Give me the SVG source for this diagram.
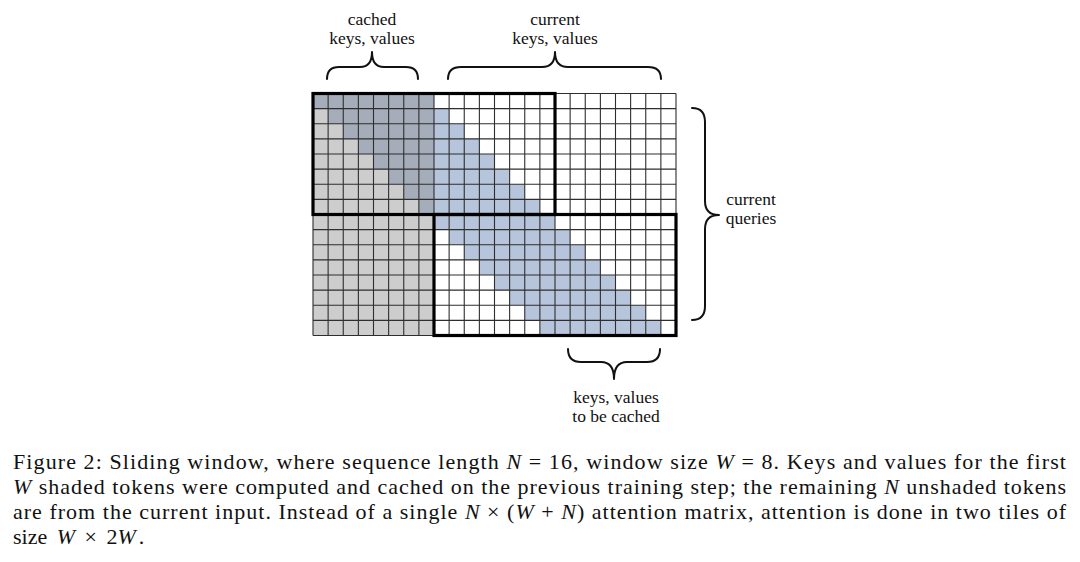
<svg xmlns="http://www.w3.org/2000/svg" width="1080" height="562" viewBox="0 0 1080 562">
<style>
text{font-family:"Liberation Serif","Times New Roman",serif;fill:#111}
.lbl{font-size:17.5px;text-anchor:middle}
.cap{font-size:22px}
.m{font-style:italic}
.brace{fill:none;stroke:#111;stroke-width:2;stroke-linecap:round;stroke-linejoin:round}
.tile{fill:none;stroke:#000;stroke-width:3.2}
</style>
<rect width="1080" height="562" fill="#fff"/>
<g id="matrix">
<rect x="313" y="93.5" width="121" height="242" fill="#cdcdcd"/>
<polygon fill="#a6adba" points="313,93.5 434,93.5 434,214.5 418.875,214.5 418.875,199.375 403.75,199.375 403.75,184.25 388.625,184.25 388.625,169.125 373.5,169.125 373.5,154 358.375,154 358.375,138.875 343.25,138.875 343.25,123.75 328.125,123.75 328.125,108.625 313,108.625"/>
<polygon fill="#b6c5db" points="434,108.625 449.125,108.625 449.125,123.75 464.25,123.75 464.25,138.875 479.375,138.875 479.375,154 494.5,154 494.5,169.125 509.625,169.125 509.625,184.25 524.75,184.25 524.75,199.375 539.875,199.375 539.875,214.5 555,214.5 555,229.625 570.125,229.625 570.125,244.75 585.25,244.75 585.25,259.875 600.375,259.875 600.375,275 615.5,275 615.5,290.125 630.625,290.125 630.625,305.25 645.75,305.25 645.75,320.375 660.875,320.375 660.875,335.5 539.875,335.5 539.875,320.375 524.75,320.375 524.75,305.25 509.625,305.25 509.625,290.125 494.5,290.125 494.5,275 479.375,275 479.375,259.875 464.25,259.875 464.25,244.75 449.125,244.75 449.125,229.625 434,229.625"/>
<path fill="none" stroke="#2e2e2e" stroke-width="1.1" d="M313 93.5V335.5M328.125 93.5V335.5M343.25 93.5V335.5M358.375 93.5V335.5M373.5 93.5V335.5M388.625 93.5V335.5M403.75 93.5V335.5M418.875 93.5V335.5M434 93.5V335.5M449.125 93.5V335.5M464.25 93.5V335.5M479.375 93.5V335.5M494.5 93.5V335.5M509.625 93.5V335.5M524.75 93.5V335.5M539.875 93.5V335.5M555 93.5V335.5M570.125 93.5V335.5M585.25 93.5V335.5M600.375 93.5V335.5M615.5 93.5V335.5M630.625 93.5V335.5M645.75 93.5V335.5M660.875 93.5V335.5M676 93.5V335.5M313 93.5H676M313 108.625H676M313 123.75H676M313 138.875H676M313 154H676M313 169.125H676M313 184.25H676M313 199.375H676M313 214.5H676M313 229.625H676M313 244.75H676M313 259.875H676M313 275H676M313 290.125H676M313 305.25H676M313 320.375H676M313 335.5H676"/>
</g>
<g id="tiles">
<rect id="tile1" class="tile" x="313" y="93.5" width="242" height="121"/>
<rect id="tile2" class="tile" x="434" y="214.5" width="242" height="121"/>
</g>
<g id="braces">
<path id="brace-cached" class="brace" d="M327 79 Q327 67 339 67 L360 67 Q372 67 372 52 Q372 67 384 67 L406 67 Q418 67 418 79"/>
<path id="brace-current" class="brace" d="M448 79 Q448 67 461 67 L542 67 Q555 67 555 52 Q555 67 568 67 L648 67 Q661 67 661 79"/>
<path id="brace-tobecached" class="brace" d="M568 349 Q568 362 581 362 L601 362 Q614 362 614 379 Q614 362 627 362 L647 362 Q660 362 660 349"/>
<path id="brace-queries" class="brace" d="M692 108 Q705 108 705 122 L705 201 Q705 215 719 215 Q705 215 705 229 L705 306 Q705 320 692 320"/>
</g>
<g id="labels">
<text class="lbl" x="751" y="205">current</text>
<text class="lbl" x="751" y="224">queries</text>
<text class="lbl" x="372" y="25">cached</text>
<text class="lbl" x="372" y="44">keys, values</text>
<text class="lbl" x="555" y="25">current</text>
<text class="lbl" x="555" y="44">keys, values</text>
<text class="lbl" x="616" y="403">keys, values</text>
<text class="lbl" x="616" y="422">to be cached</text>
</g>
<g id="caption">
<text class="cap" x="13" y="469" textLength="1053" lengthAdjust="spacing">Figure 2: Sliding window, where sequence length <tspan class="m">N</tspan> = 16, window size <tspan class="m">W</tspan> = 8. Keys and values for the first</text>
<text class="cap" x="13" y="494" textLength="1053" lengthAdjust="spacing"><tspan class="m">W</tspan> shaded tokens were computed and cached on the previous training step; the remaining <tspan class="m">N</tspan> unshaded tokens</text>
<text class="cap" x="13" y="519" textLength="1053" lengthAdjust="spacing">are from the current input. Instead of a single <tspan class="m">N</tspan> × (<tspan class="m">W</tspan> + <tspan class="m">N</tspan>) attention matrix, attention is done in two tiles of</text>
<text class="cap" x="13" y="544" word-spacing="4">size <tspan class="m">W</tspan> × 2<tspan class="m">W</tspan><tspan dx="3">.</tspan></text>
</g>
</svg>
